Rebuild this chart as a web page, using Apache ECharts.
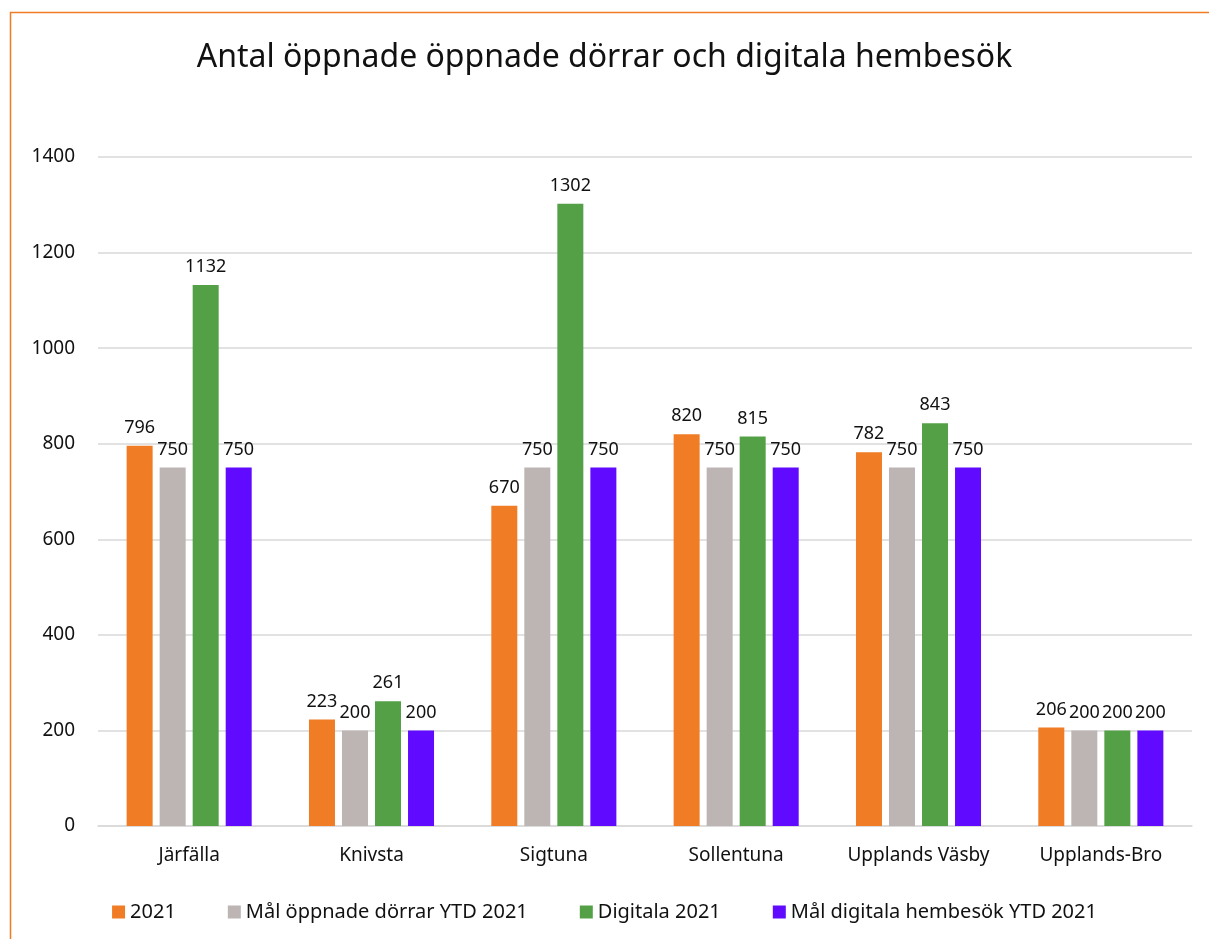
<!DOCTYPE html>
<html>
<head>
    <meta charset="utf-8">
    <title>Antal öppnade dörrar</title>
    <script src="https://cdn.jsdelivr.net/npm/echarts@6/dist/echarts.min.js"></script>
    <style>
        html, body { margin: 0; padding: 0; background: #fff; }
    </style>
</head>
<body>
<div id="main" style="width: 1209px;height:939px;"></div>
<script type="text/javascript">
    // kommuner
    var categories = ['Järfälla', 'Knivsta', 'Sigtuna', 'Sollentuna', 'Upplands Väsby', 'Upplands-Bro'];
    var oppnade2021 = [796, 223, 670, 820, 782, 206];
    var malOppnade = [750, 200, 750, 750, 750, 200];
    var digitala2021 = [1132, 261, 1302, 815, 843, 200];
    var malDigitala = [750, 200, 750, 750, 750, 200];
    var seriesNames = ['2021', 'Mål öppnade dörrar YTD 2021', 'Digitala 2021', 'Mål digitala hembesök YTD 2021'];
    var colors = ['#F07D25', '#BCB5B3', '#54A047', '#600BFF'];

    var font = 'Noto Sans';

    function bar(name, data, color) {
        return {
            name: name,
            type: 'bar',
            data: data,
            barWidth: 26,
            barGap: '27%',
            itemStyle: { color: color },
            label: {
                show: true,
                position: 'top',
                distance: 9,
                color: '#111',
                fontFamily: font,
                fontSize: 18
            }
        };
    }

    var option = {
        textStyle: { fontFamily: font },
        title: {
            text: 'Antal öppnade öppnade dörrar och digitala hembesök',
            left: 'center',
            top: 37,
            textStyle: { fontFamily: font, fontSize: 32, fontWeight: 'normal', color: '#111' }
        },
        graphic: [{
            type: 'rect',
            shape: { x: 10.5, y: 12.5, width: 1300, height: 1000 },
            style: { fill: 'none', stroke: '#F07D25', lineWidth: 1.5 }
        }],
        legend: {
            bottom: 12,
            left: 'center',
            itemWidth: 13,
            itemHeight: 13,
            itemGap: 52,
            icon: 'rect',
            textStyle: { fontFamily: font, fontSize: 20, color: '#111' },
            data: seriesNames
        },
        grid: { left: 98, right: 17, top: 157, bottom: 113 },
        xAxis: {
            type: 'category',
            data: categories,
            axisLine: { lineStyle: { color: '#d9d9d9', width: 1.5 } },
            axisTick: { show: false },
            axisLabel: { color: '#111', fontSize: 19, margin: 20, fontFamily: font, interval: 0 }
        },
        yAxis: {
            type: 'value',
            min: 0,
            max: 1400,
            interval: 200,
            axisLine: { show: false },
            axisTick: { show: false },
            splitLine: { lineStyle: { color: '#d9d9d9', width: 1.5 } },
            axisLabel: {
                color: '#111', fontSize: 19, margin: 23, fontFamily: font,
                formatter: function (v) { return String(v); }
            }
        },
        series: [
            bar(seriesNames[0], oppnade2021, colors[0]),
            bar(seriesNames[1], malOppnade, colors[1]),
            bar(seriesNames[2], digitala2021, colors[2]),
            bar(seriesNames[3], malDigitala, colors[3])
        ]
    };

    var myChart = echarts.init(document.getElementById('main'));
    myChart.setOption(option);
</script>
</body>
</html>
